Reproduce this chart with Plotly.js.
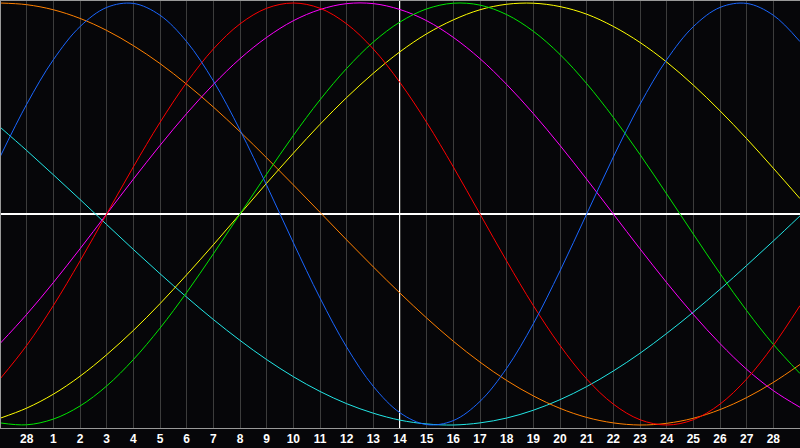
<!DOCTYPE html>
<html>
<head>
<meta charset="utf-8">
<script src="https://cdn.plot.ly/plotly-3.0.1.min.js"></script>
<style>
  html, body { margin: 0; padding: 0; background: #060609; }
  #chart { width: 800px; height: 448px; }
</style>
</head>
<body>
<div id="chart"></div>
<script>
// day slots across the chart, 0..30 (edges at 0 and 30)
var days = [];
for (var i = 0; i <= 30; i++) days.push(i);

var tickPos = [1,2,3,4,5,6,7,8,9,10,11,12,13,14,15,16,17,18,19,20,21,22,23,24,25,26,27,28,29];
var tickLabels = ['28','1','2','3','4','5','6','7','8','9','10','11','12','13','14',
                  '15','16','17','18','19','20','21','22','23','24','25','26','27','28'];

// values, one per day slot
var physical = [0.270,0.520,0.731,0.888,0.979,0.998,0.942,0.817,0.631,0.398,0.136,-0.136,-0.398,-0.631,-0.817,-0.942,
                -0.998,-0.979,-0.888,-0.731,-0.520,-0.270,0.000,0.270,0.520,0.731,0.888,0.979,0.998,0.942,0.817];
var emotional = [-0.782,-0.623,-0.434,-0.223,0.000,0.223,0.434,0.623,0.782,0.901,0.975,1.000,0.975,0.901,0.782,0.623,
                 0.434,0.223,0.000,-0.223,-0.434,-0.623,-0.782,-0.901,-0.975,-1.000,-0.975,-0.901,-0.782,-0.623,-0.434];
var intellectual = [-0.990,-0.999,-0.972,-0.910,-0.815,-0.690,-0.541,-0.372,-0.189,0.000,0.189,0.372,0.541,0.690,0.815,0.910,
                    0.972,0.999,0.990,0.945,0.866,0.756,0.618,0.458,0.282,0.095,-0.095,-0.282,-0.458,-0.618,-0.756];
var intuitive = [-0.614,-0.476,-0.325,-0.165,0.000,0.165,0.325,0.476,0.614,0.736,0.837,0.916,0.969,0.997,0.997,0.969,
                 0.916,0.837,0.736,0.614,0.476,0.325,0.165,0.000,-0.165,-0.325,-0.476,-0.614,-0.736,-0.837,-0.916];
var aesthetic = [-0.968,-0.920,-0.854,-0.769,-0.667,-0.552,-0.425,-0.288,-0.146,0.000,0.146,0.288,0.425,0.552,0.667,0.769,
                 0.854,0.920,0.968,0.994,0.999,0.983,0.947,0.889,0.813,0.720,0.611,0.489,0.357,0.217,0.073];
var awareness = [1.000,0.992,0.968,0.927,0.870,0.798,0.713,0.615,0.507,0.390,0.266,0.138,0.008,-0.123,-0.251,-0.375,
                 -0.493,-0.603,-0.702,-0.789,-0.862,-0.921,-0.964,-0.990,-1.000,-0.992,-0.968,-0.927,-0.870,-0.798,-0.713];
var spiritual = [0.412,0.301,0.186,0.069,-0.050,-0.168,-0.283,-0.394,-0.500,-0.599,-0.690,-0.771,-0.841,-0.899,-0.944,-0.977,
                 -0.995,-1.000,-0.990,-0.967,-0.930,-0.880,-0.818,-0.744,-0.660,-0.566,-0.465,-0.357,-0.244,-0.128,-0.009];

function curve(vals, color) {
  return {
    x: days,
    y: vals,
    type: 'scatter',
    mode: 'lines',
    line: {color: color, width: 1, shape: 'spline', smoothing: 1},
    hoverinfo: 'skip'
  };
}

var data = [
  curve(spiritual, '#22e6e6'),
  curve(awareness, '#ff8000'),
  curve(aesthetic, '#ffff00'),
  curve(intuitive, '#ff00ff'),
  curve(intellectual, '#00e600'),
  curve(emotional, '#ff0000'),
  curve(physical, '#1a66ff')
];

var layout = {
  width: 800,
  height: 448,
  margin: {l: 0, r: 0, t: 0, b: 20},
  paper_bgcolor: '#060609',
  plot_bgcolor: '#060609',
  showlegend: false,
  xaxis: {
    range: [0, 30],
    tickvals: tickPos,
    ticktext: tickLabels,
    showgrid: true,
    gridcolor: '#3c3c3c',
    gridwidth: 1,
    zeroline: false,
    showline: true,
    linecolor: '#999999',
    linewidth: 1,
    ticks: '',
    tickfont: {family: 'Liberation Sans, Arial, sans-serif', size: 12, color: '#ffffff', weight: 'bold'},
    fixedrange: true
  },
  yaxis: {
    range: [-1.0142, 1.0142],
    showgrid: false,
    showticklabels: false,
    zeroline: true,
    zerolinecolor: '#ffffff',
    zerolinewidth: 2,
    fixedrange: true
  },
  shapes: [
    {type: 'line', xref: 'x', yref: 'paper', x0: 15, x1: 15, y0: 0, y1: 1,
     line: {color: '#ffffff', width: 2}, layer: 'below'},
    {type: 'line', xref: 'paper', yref: 'paper', x0: 0, x1: 0, y0: 0, y1: 1,
     line: {color: '#999999', width: 2}},
    {type: 'line', xref: 'paper', yref: 'paper', x0: 0, x1: 1, y0: 1, y1: 1,
     line: {color: '#999999', width: 2}}
  ]
};

Plotly.newPlot('chart', data, layout, {displayModeBar: false, staticPlot: true});
</script>
</body>
</html>
